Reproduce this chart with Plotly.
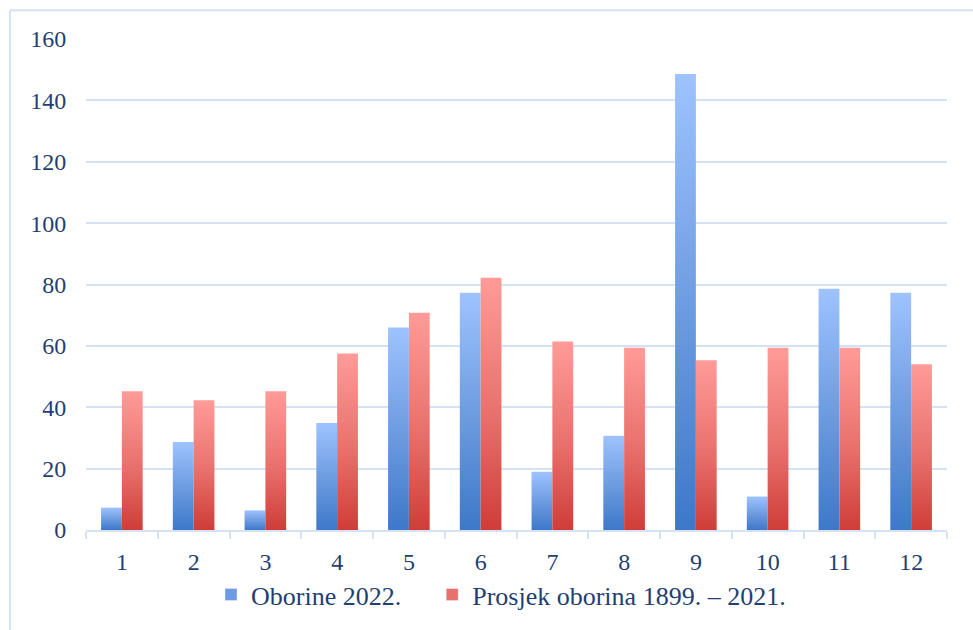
import plotly.graph_objects as go

months = [1, 2, 3, 4, 5, 6, 7, 8, 9, 10, 11, 12]
oborine_2022 = [7.3, 28.7, 6.4, 34.9, 66.0, 77.3, 19.0, 30.7, 148.6, 10.9, 78.6, 77.3]
prosjek = [45.2, 42.3, 45.2, 57.5, 70.8, 82.2, 61.4, 59.4, 55.3, 59.4, 59.4, 54.0]
series_names = ["Oborine 2022.", "Prosjek oborina 1899. – 2021."]
y_ticks = [0, 20, 40, 60, 80, 100, 120, 140, 160]

BAR_W = 0.29
blue_scale = [[0, "#3D78C9"], [0.45, "#6A99DE"], [1, "#9EC3FF"]]
red_scale = [[0, "#CF3D38"], [0.45, "#E8706C"], [1, "#FF9B98"]]
blue_mid = "#6E9CE2"
red_mid = "#E8716D"
text_color = "#1F3F74"
grid_color = "#D6E2F3"
FONT = "Liberation Serif, 'Times New Roman', Times, serif"

fig = go.Figure()

def add_bars(values, offset, name, scale, group):
    for m, v in zip(months, values):
        x0 = m + offset
        x1 = x0 + BAR_W
        fig.add_trace(go.Scatter(
            x=[x0, x1, x1, x0, x0],
            y=[0, 0, v, v, 0],
            mode="none",
            fill="toself",
            fillgradient=dict(type="vertical", colorscale=scale, start=0, stop=v),
            name=name,
            legendgroup=group,
            showlegend=False,
            hoverinfo="skip",
        ))

add_bars(oborine_2022, -BAR_W, series_names[0], blue_scale, "a")
add_bars(prosjek, 0.0, series_names[1], red_scale, "b")

# legend entries (square swatches); trailing no-break spaces widen the gap
fig.add_trace(go.Bar(x=[None], y=[None], name=series_names[0] + "\u00a0" * 4,
                     legendgroup="a", marker=dict(color=blue_mid)))
fig.add_trace(go.Bar(x=[None], y=[None], name=series_names[1],
                     legendgroup="b", marker=dict(color=red_mid)))

L, R, T, B = 86, 26, 39, 97
W, H = 973, 630
pw = W - L - R
ph = H - T - B

fig.update_layout(
    width=W, height=H,
    margin=dict(l=L, r=R, t=T, b=B),
    paper_bgcolor="white",
    plot_bgcolor="white",
    font=dict(family=FONT, size=24, color=text_color),
    showlegend=True,
    legend=dict(
        orientation="h",
        x=(501 - L) / pw, xanchor="center",
        y=-(598 - (H - B)) / ph, yanchor="middle",
        font=dict(family=FONT, size=26, color=text_color),
        bgcolor="rgba(0,0,0,0)",
        tracegroupgap=0,
    ),
    xaxis=dict(
        range=[0.5, 12.5],
        tickmode="array",
        tickvals=months,
        ticktext=[str(m) for m in months],
        ticks="outside",
        ticklen=9,
        tickcolor="rgba(0,0,0,0)",
        showgrid=False,
        zeroline=False,
        showline=True,
        linecolor=grid_color,
        linewidth=2,
        tickfont=dict(family=FONT, size=24, color=text_color),
        minor=dict(tickmode="linear", tick0=0.5, dtick=1, ticks="outside",
                   ticklen=7, tickcolor=grid_color, tickwidth=2, showgrid=False),
        fixedrange=True,
    ),
    yaxis=dict(
        range=[0, 160],
        tickmode="array",
        tickvals=y_ticks,
        showgrid=True,
        gridcolor=grid_color,
        gridwidth=2,
        zeroline=False,
        showline=False,
        ticks="outside",
        ticklen=14,
        tickcolor="rgba(0,0,0,0)",
        tickfont=dict(family=FONT, size=24, color=text_color),
        fixedrange=True,
    ),
    shapes=[
        dict(type="line", xref="paper", yref="paper",
             x0=(10 - L) / pw, x1=(W + 5 - L) / pw,
             y0=(H - B - 10) / ph, y1=(H - B - 10) / ph,
             line=dict(color=grid_color, width=2), layer="below"),
        dict(type="line", xref="paper", yref="paper",
             x0=(10 - L) / pw, x1=(10 - L) / pw,
             y0=(H - B - 10) / ph, y1=-(B + 5) / ph,
             line=dict(color=grid_color, width=2), layer="below"),
    ],
)

fig.write_html("out.html", config={"displayModeBar": False},
               post_script="document.body.style.margin='0';")
